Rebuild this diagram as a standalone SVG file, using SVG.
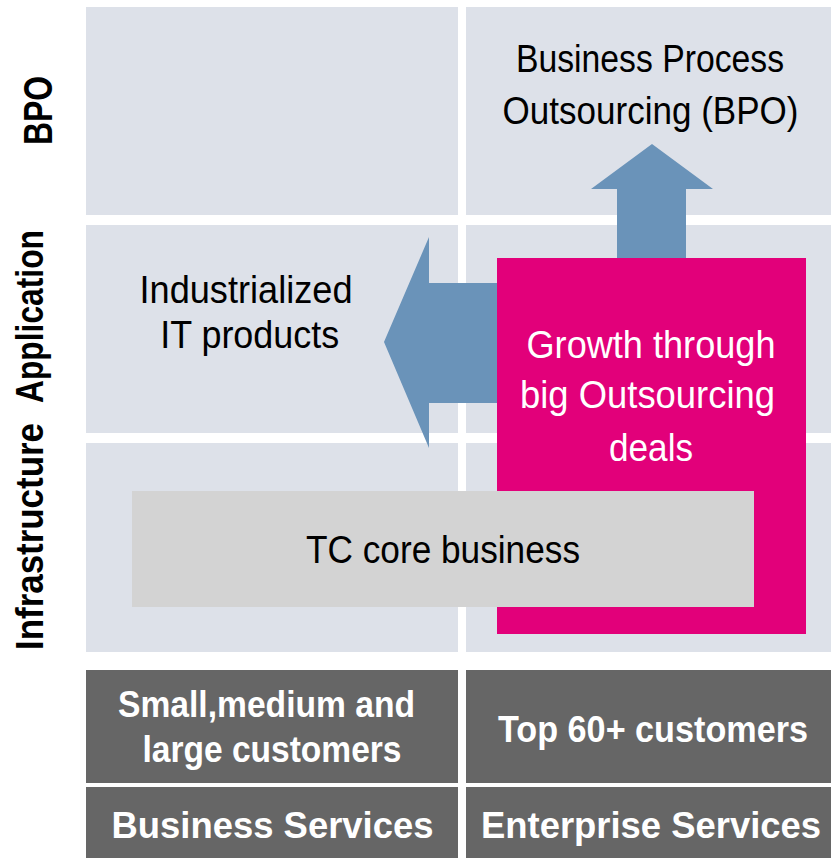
<svg xmlns="http://www.w3.org/2000/svg" width="831" height="858" viewBox="0 0 831 858">
<style>
.cell{fill:#dde1e9}
.dark{fill:#666666}
.arrow{fill:#6a93b9}
.axis{font-family:"Liberation Sans",Arial,sans-serif;font-weight:bold;fill:#000;text-anchor:middle}
.lbl{font-family:"Liberation Sans",Arial,sans-serif;fill:#000;text-anchor:middle}
.wlbl{font-family:"Liberation Sans",Arial,sans-serif;fill:#fff;text-anchor:middle}
.wbold{font-family:"Liberation Sans",Arial,sans-serif;font-weight:bold;fill:#fff;text-anchor:middle}
</style>
<rect width="831" height="858" fill="#ffffff"/>
<g id="grid">
<rect class="cell" x="86" y="7" width="372" height="208"/>
<rect class="cell" x="466" y="7" width="365" height="208"/>
<rect class="cell" x="86" y="225" width="372" height="208"/>
<rect class="cell" x="466" y="225" width="365" height="208"/>
<rect class="cell" x="86" y="443" width="372" height="209"/>
<rect class="cell" x="466" y="443" width="365" height="209"/>
</g>
<g id="axis-labels">
<text class="axis" font-size="41" textLength="69" lengthAdjust="spacingAndGlyphs" transform="translate(52,110.5) rotate(-90)">BPO</text>
<text class="axis" font-size="38" textLength="173" lengthAdjust="spacingAndGlyphs" transform="translate(43,316.5) rotate(-90)">Application</text>
<text class="axis" font-size="38" textLength="227" lengthAdjust="spacingAndGlyphs" transform="translate(43,536.5) rotate(-90)">Infrastructure</text>
</g>
<g id="connectors">
<polygon class="arrow" points="617,300 617,189 591,189 652,144 713,189 686,189 686,300"/>
<polygon class="arrow" points="500,283 429,283 429,237 384,342 429,448 429,403 500,403"/>
</g>
<g id="bpo">
<text class="lbl" font-size="38" x="650" y="72" textLength="268" lengthAdjust="spacingAndGlyphs">Business Process</text>
<text class="lbl" font-size="38" x="650.5" y="123.5" textLength="296" lengthAdjust="spacingAndGlyphs">Outsourcing (BPO)</text>
</g>
<g id="industrialized">
<text class="lbl" font-size="38" x="246" y="303" textLength="213" lengthAdjust="spacingAndGlyphs">Industrialized</text>
<text class="lbl" font-size="38" x="249.7" y="348" textLength="179" lengthAdjust="spacingAndGlyphs">IT products</text>
</g>
<g id="growth">
<rect x="497" y="258" width="309" height="376" fill="#e2007a"/>
<text class="wlbl" font-size="38" x="651" y="358" textLength="249" lengthAdjust="spacingAndGlyphs">Growth through</text>
<text class="wlbl" font-size="38" x="647.5" y="408" textLength="255" lengthAdjust="spacingAndGlyphs">big Outsourcing</text>
<text class="wlbl" font-size="38" x="651" y="461" textLength="84" lengthAdjust="spacingAndGlyphs">deals</text>
</g>
<g id="core">
<rect x="132" y="491" width="622" height="116" fill="#d3d3d3"/>
<text class="lbl" font-size="39" x="443" y="563" textLength="274" lengthAdjust="spacingAndGlyphs">TC core business</text>
</g>
<g id="smb">
<rect class="dark" x="86" y="670" width="372" height="113"/>
<text class="wbold" font-size="36" x="266.5" y="717" textLength="297" lengthAdjust="spacingAndGlyphs">Small,medium and</text>
<text class="wbold" font-size="36" x="272" y="762" textLength="259" lengthAdjust="spacingAndGlyphs">large customers</text>
</g>
<g id="top60">
<rect class="dark" x="466" y="670" width="365" height="113"/>
<text class="wbold" font-size="36" x="653" y="742" textLength="310" lengthAdjust="spacingAndGlyphs">Top 60+ customers</text>
</g>
<g id="business-services">
<rect class="dark" x="86" y="787" width="372" height="71"/>
<text class="wbold" font-size="37" x="272.5" y="838" textLength="322" lengthAdjust="spacingAndGlyphs">Business Services</text>
</g>
<g id="enterprise-services">
<rect class="dark" x="466" y="787" width="365" height="71"/>
<text class="wbold" font-size="37" x="651" y="838" textLength="340" lengthAdjust="spacingAndGlyphs">Enterprise Services</text>
</g>
</svg>
